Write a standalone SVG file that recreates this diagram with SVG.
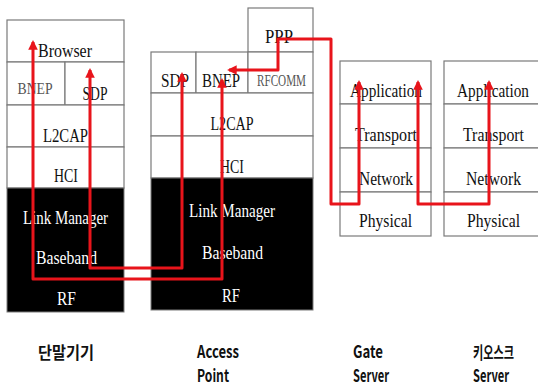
<svg xmlns="http://www.w3.org/2000/svg" width="538" height="387" viewBox="0 0 538 387">
<defs>
<style>
.box{fill:#fff;stroke:#7a7a7a;stroke-width:1.2}
.blk{fill:#000;stroke:#7a7a7a;stroke-width:1}
.t{font-family:"Liberation Serif",serif;font-size:19px;text-anchor:middle;fill:#111}
.s{font-size:17px}
.w{fill:#fff}
.g{fill:#555}
.lbl{font-family:"Noto Sans CJK KR","Noto Sans",sans-serif;font-size:17px;font-weight:bold;fill:#111}
.c{fill:none;stroke:#e8141b;stroke-width:3;stroke-linejoin:round}
</style>
<marker id="ah" viewBox="0 0 10 10" refX="8" refY="5" markerWidth="3.4" markerHeight="3.2" orient="auto-start-reverse" markerUnits="strokeWidth">
<path d="M0,0 L10,5 L0,10 Z" fill="#e8141b"/>
</marker>
</defs>
<rect width="538" height="387" fill="#fff"/>

<g id="terminal">
<rect class="box" x="7" y="20" width="117" height="42"/>
<rect class="box" x="7" y="62" width="58" height="43"/>
<rect class="box" x="65" y="62" width="59" height="43"/>
<rect class="box" x="7" y="105" width="117" height="42"/>
<rect class="box" x="7" y="147" width="117" height="41"/>
<rect class="blk" x="7" y="188" width="117" height="124"/>
<text class="t" x="65" y="57" textLength="54" lengthAdjust="spacingAndGlyphs">Browser</text>
<text class="t s g" x="35" y="94" textLength="35" lengthAdjust="spacingAndGlyphs">BNEP</text>
<text class="t" x="95" y="100" textLength="25" lengthAdjust="spacingAndGlyphs">SDP</text>
<text class="t" x="65.5" y="142" textLength="45" lengthAdjust="spacingAndGlyphs">L2CAP</text>
<text class="t" x="66" y="182" textLength="24" lengthAdjust="spacingAndGlyphs">HCI</text>
<text class="t w" x="65.5" y="224" textLength="85" lengthAdjust="spacingAndGlyphs">Link Manager</text>
<text class="t w" x="66.5" y="264" textLength="61" lengthAdjust="spacingAndGlyphs">Baseband</text>
<text class="t w" x="66.5" y="305" textLength="19" lengthAdjust="spacingAndGlyphs">RF</text>
</g>

<g id="access-point">
<rect class="box" x="248" y="8" width="65" height="44"/>
<rect class="box" x="151" y="52" width="45" height="41"/>
<rect class="box" x="196" y="52" width="52" height="41"/>
<rect class="box" x="248" y="52" width="65" height="41"/>
<rect class="box" x="151" y="93" width="162" height="43"/>
<rect class="box" x="151" y="136" width="162" height="42"/>
<rect class="blk" x="151" y="178" width="162" height="132"/>
<text class="t" x="279" y="43" textLength="28" lengthAdjust="spacingAndGlyphs">PPP</text>
<text class="t" x="175" y="87" textLength="28" lengthAdjust="spacingAndGlyphs">SDP</text>
<text class="t" x="221" y="87" textLength="38" lengthAdjust="spacingAndGlyphs">BNEP</text>
<text class="t s g" x="281.5" y="86" textLength="49" lengthAdjust="spacingAndGlyphs">RFCOMM</text>
<text class="t" x="232" y="130" textLength="43" lengthAdjust="spacingAndGlyphs">L2CAP</text>
<text class="t" x="232" y="173" textLength="24" lengthAdjust="spacingAndGlyphs">HCI</text>
<text class="t w" x="232" y="217" textLength="86" lengthAdjust="spacingAndGlyphs">Link Manager</text>
<text class="t w" x="232.5" y="259" textLength="61" lengthAdjust="spacingAndGlyphs">Baseband</text>
<text class="t w" x="231" y="302" textLength="18" lengthAdjust="spacingAndGlyphs">RF</text>
</g>

<g id="gate-server">
<rect class="box" x="340" y="61" width="91" height="43"/>
<rect class="box" x="340" y="104" width="91" height="44"/>
<rect class="box" x="340" y="148" width="91" height="44"/>
<rect class="box" x="340" y="192" width="91" height="44"/>
<text class="t" x="386" y="97" textLength="72" lengthAdjust="spacingAndGlyphs">Application</text>
<text class="t" x="386" y="141" textLength="62" lengthAdjust="spacingAndGlyphs">Transport</text>
<text class="t" x="386" y="185" textLength="54" lengthAdjust="spacingAndGlyphs">Network</text>
<text class="t" x="385.5" y="227" textLength="53" lengthAdjust="spacingAndGlyphs">Physical</text>
</g>

<g id="kiosk-server">
<rect class="box" x="444" y="61" width="95" height="43"/>
<rect class="box" x="444" y="104" width="95" height="44"/>
<rect class="box" x="444" y="148" width="95" height="44"/>
<rect class="box" x="444" y="192" width="95" height="44"/>
<text class="t" x="493" y="97" textLength="72" lengthAdjust="spacingAndGlyphs">Application</text>
<text class="t" x="493.5" y="141" textLength="61" lengthAdjust="spacingAndGlyphs">Transport</text>
<text class="t" x="493.5" y="185" textLength="55" lengthAdjust="spacingAndGlyphs">Network</text>
<text class="t" x="493.5" y="227" textLength="53" lengthAdjust="spacingAndGlyphs">Physical</text>
</g>

<g id="connectors">
<path class="c" d="M222,80 V279 H33 V42" marker-start="url(#ah)" marker-end="url(#ah)"/>
<path class="c" d="M182,74 V268 H90 V70" marker-start="url(#ah)" marker-end="url(#ah)"/>
<path class="c" d="M229,70 H278 V39 H331 V204 H359 V82" marker-start="url(#ah)" marker-end="url(#ah)"/>
<path class="c" d="M418,82 V204 H489 V82" marker-start="url(#ah)" marker-end="url(#ah)"/>
</g>

<g id="labels">
<text class="lbl" x="38" y="359" textLength="56" lengthAdjust="spacingAndGlyphs">단말기기</text>
<text class="lbl" x="197" y="358" textLength="42" lengthAdjust="spacingAndGlyphs">Access</text>
<text class="lbl" x="197" y="382" textLength="32" lengthAdjust="spacingAndGlyphs">Point</text>
<text class="lbl" x="353" y="358" textLength="30" lengthAdjust="spacingAndGlyphs">Gate</text>
<text class="lbl" x="353" y="382" textLength="36" lengthAdjust="spacingAndGlyphs">Server</text>
<text class="lbl" x="473" y="359" textLength="41" lengthAdjust="spacingAndGlyphs">키오스크</text>
<text class="lbl" x="473" y="382" textLength="36" lengthAdjust="spacingAndGlyphs">Server</text>
</g>
</svg>
